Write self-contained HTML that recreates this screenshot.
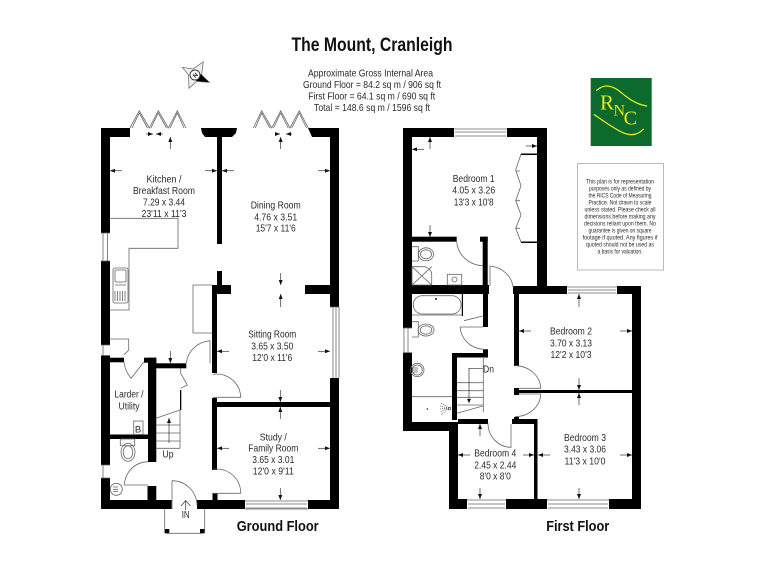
<!DOCTYPE html>
<html><head><meta charset="utf-8"><title>The Mount, Cranleigh</title>
<style>
html,body{margin:0;padding:0;background:#fff}
svg{display:block;filter:blur(.35px)}
text{font-family:"Liberation Sans",sans-serif;fill:#2a2a2a;text-anchor:middle}
.r{font-size:10.5px}
.t{font-size:6px}
.h{font-weight:bold;fill:#111}
.g{fill:none;stroke:#666;stroke-width:.8}
.k{fill:none;stroke:#333;stroke-width:.7}
.a{stroke:#333;stroke-width:.7;marker-end:url(#m)}
.y{fill:none;stroke:#e8e820;stroke-width:1.3;stroke-linecap:round}
.l{font-family:"Liberation Serif",serif;fill:#e8e820}
</style></head><body>
<svg width="768" height="576" viewBox="0 0 768 576" xmlns="http://www.w3.org/2000/svg">
<defs><marker id="m" markerUnits="userSpaceOnUse" markerWidth="5" markerHeight="4" refX="5" refY="2" orient="auto"><path d="M0 0L5 2L0 4z" fill="#111"/></marker></defs>
<rect width="768" height="576" fill="#fff"/>

<text x="372" y="51" class="h" font-size="19.5" textLength="161" lengthAdjust="spacingAndGlyphs">The Mount, Cranleigh</text>
<text x="370.5" y="76.500" class="r" textLength="125" lengthAdjust="spacingAndGlyphs">Approximate Gross Internal Area</text>
<text x="372" y="88" class="r" textLength="138" lengthAdjust="spacingAndGlyphs">Ground Floor = 84.2 sq m / 906 sq ft</text>
<text x="371.700" y="99.500" class="r" textLength="127" lengthAdjust="spacingAndGlyphs">First Floor = 64.1 sq m / 690 sq ft</text>
<text x="372" y="111" class="r" textLength="116" lengthAdjust="spacingAndGlyphs">Total = 148.6 sq m / 1596 sq ft</text>

<!-- compass -->
<path d="M182.300 67.300L193 69L203.300 61.700L201.500 76L209.300 82.300L196.500 81.500L189 88.300L188.500 75z" fill="#eee" stroke="#666" stroke-width=".7"/>
<path d="M201 74L209.300 82.300L196 81z" fill="#000"/>
<circle cx="195" cy="75" r="5" fill="#fff" stroke="#333" stroke-width=".9"/>
<text x="195" y="77.500" font-size="6" class="h" transform="rotate(-45 195 75)">N</text>

<!-- logo -->
<rect x="590.700" y="78" width="61" height="68" fill="#0c6a2c"/>
<path class="y" d="M596.700 90.300C600 87.500 603 86 606.700 86C611 86 615 88 618.300 90.300C623 94 627 97.500 631.700 100.300C636 103 641 105 646.700 106"/>
<path class="y" d="M594.300 114.700C598 117 601 119.500 605 122C609 124.700 614 128 618.300 130.300C623 133 627 134.700 631.700 134.700C636 134.700 640 132.500 643.300 129.300"/>
<text x="607" y="109.300" font-size="21" class="l">R</text>
<text x="619.300" y="115.300" font-size="16" class="l">N</text>
<text x="630.300" y="124.700" font-size="20" class="l">C</text>

<!-- notice -->
<rect x="577.500" y="163.500" width="86" height="106.500" fill="#fff" stroke="#bbb"/>
<g class="t">
<text x="620" y="183.700" textLength="68" lengthAdjust="spacingAndGlyphs">This plan is for representation</text>
<text x="620" y="190.700" textLength="62" lengthAdjust="spacingAndGlyphs">purposes only as defined by</text>
<text x="620" y="197.700" textLength="63" lengthAdjust="spacingAndGlyphs">the RICS Code of Measuring</text>
<text x="620" y="204.700" textLength="63" lengthAdjust="spacingAndGlyphs">Practice. Not drawn to scale</text>
<text x="620" y="211.700" textLength="71" lengthAdjust="spacingAndGlyphs">unless stated. Please check all</text>
<text x="620" y="218.700" textLength="71" lengthAdjust="spacingAndGlyphs">dimensions before making any</text>
<text x="620" y="225.700" textLength="72" lengthAdjust="spacingAndGlyphs">decisions reliant upon them. No</text>
<text x="620" y="232.700" textLength="63" lengthAdjust="spacingAndGlyphs">guarantee is given on square</text>
<text x="620" y="239.700" textLength="75" lengthAdjust="spacingAndGlyphs">footage if quoted. Any figures if</text>
<text x="620" y="246.700" textLength="68" lengthAdjust="spacingAndGlyphs">quoted should not be used as</text>
<text x="620" y="253.700" textLength="45" lengthAdjust="spacingAndGlyphs">a basis for valuation.</text>
</g>

<!-- GROUND FLOOR WALLS -->
<g fill="#000">
<rect x="101" y="128" width="29" height="9"/>
<rect x="101" y="128" width="9" height="105"/>
<rect x="101" y="261" width="9" height="84"/>
<rect x="101" y="355.500" width="9" height="109.500"/>
<rect x="101" y="478" width="9" height="31"/>
<path d="M201 128H237L236 133L232 137H205L202 133z"/>
<rect x="217" y="128" width="5" height="116"/>
<rect x="217" y="271" width="5" height="20"/>
<rect x="212" y="285" width="19" height="9"/>
<rect x="212" y="285" width="5" height="88"/>
<rect x="305" y="285" width="25" height="9"/>
<path d="M308 128H339V137H312z"/>
<rect x="330" y="128" width="9" height="179"/>
<rect x="330" y="378" width="9" height="131"/>
<rect x="110" y="357.700" width="14" height="4.600"/>
<rect x="144" y="357.700" width="12.300" height="5"/>
<rect x="148" y="357.700" width="8.300" height="104.300"/>
<rect x="156" y="363.300" width="30.300" height="5"/>
<rect x="110" y="434.500" width="38" height="4.500"/>
<rect x="147.500" y="486" width="8.800" height="14"/>
<rect x="212" y="398" width="5" height="72"/>
<rect x="212.500" y="493" width="5" height="7"/>
<rect x="212" y="402" width="118" height="5"/>
<rect x="101" y="500" width="70.500" height="9"/>
<rect x="197" y="500" width="48" height="9"/>
<rect x="308" y="500" width="31" height="9"/>
<rect x="180" y="390" width="1.300" height="20"/>
<rect x="164.700" y="529" width="4.600" height="4.300"/>
<rect x="200" y="529" width="4.700" height="4.300"/>
</g>

<!-- GROUND detail -->
<g class="g">
<path d="M101 233H110M101 261H110M103 233V261M107.500 233V261"/>
<path d="M101 345H110M101 355.500H110M103 345V355.500"/>
<path d="M101 465H110M101 478H110M103 465V478"/>
<path d="M330 307H339V378M333 307V378M336 307V378"/>
<path d="M245 501H308M246 504H307M246 508H307M245 509H308"/>
<path d="M130 128L139.300 110.700L149.300 128L158.300 110.700L168.300 128L177.300 110.700L186 128"/>
<path d="M132 128L139.300 113L147.500 128M151 128L158.300 113L166.500 128M170 128L177.300 113L184 128"/>
<path d="M253.300 128L261.700 110.700L271.700 128L280.700 110.700L290 128L299.300 110.700L308.300 128"/>
<path d="M255.300 128L261.700 113L270 128M273.500 128L280.700 113L288.200 128M291.800 128L299.300 113L306.500 128"/>
<path d="M110 218.300H178V248.300H129V310H110"/>
<path d="M193 333V285H212M193 333H212"/>
<rect x="113" y="268" width="15" height="35" rx="2"/>
<rect x="115" y="270" width="11" height="12" rx="1"/>
<path d="M115 285H126M115 291V301M117.500 291V301M120 291V301M122.500 291V301M125 291V301"/>
<path d="M110 339H128.700V350L124 355"/>
<path d="M124 362C125 370 128 375 131.300 378.300L143.700 362"/>
<rect x="133.700" y="421" width="9.300" height="13.500"/>
<rect x="120.300" y="439" width="14.400" height="6.700"/>
<ellipse cx="128" cy="452.300" rx="7" ry="9"/>
<ellipse cx="128" cy="452.300" rx="4.800" ry="6.500"/>
<circle cx="116.300" cy="489.300" r="6"/>
<path d="M113 487H118M113 489.300H118M113 491.500H118"/>
<path d="M210 340.700V363.300M186.300 363C188 351 197 342 210 340.700"/>
<path d="M213 397.300H240.700A24 24 0 0 0 213 374.300"/>
<path d="M213 493.300H240.700A24 24 0 0 0 213 469.300"/>
<path d="M148 485H124C126 470 136 462 148 461.700"/>
<path d="M172 480.700V509M172 480.700A25 25 0 0 1 197 505"/>
<path d="M180.700 368V373.300L187.300 385L180.700 388.300"/>
<path d="M156.500 418L180 410V448.300M156.500 425H180M156.500 433H180M156.500 441H180M156.500 448.300H180"/>
<path d="M164.700 509V533M204.700 509V533M166 533.300H203"/>
</g>
<line class="a" x1="169" y1="443" x2="169" y2="418"/>
<path d="M181 506L185.700 500.500L190.400 506M185.700 500.500V510" class="k"/>

<!-- FIRST FLOOR WALLS -->
<g fill="#000">
<rect x="403" y="128" width="51" height="9"/>
<rect x="507" y="128" width="40" height="9"/>
<rect x="403" y="128" width="9" height="200"/>
<rect x="403" y="352.700" width="9" height="78.300"/>
<rect x="403" y="422" width="55" height="9"/>
<rect x="537" y="128" width="10" height="166"/>
<rect x="513" y="286" width="54" height="8"/>
<rect x="617" y="286" width="24" height="8"/>
<rect x="632" y="286" width="9" height="223"/>
<rect x="449" y="422" width="9" height="87"/>
<rect x="449" y="499" width="18" height="10"/>
<rect x="506" y="499" width="41" height="10"/>
<rect x="609" y="499" width="32" height="10"/>
<rect x="458" y="419" width="30" height="5"/>
<rect x="512" y="419" width="25" height="5"/>
<rect x="534" y="419" width="3.500" height="80"/>
<rect x="514" y="417" width="5" height="7"/>
<rect x="519" y="390" width="113" height="3"/>
<rect x="514" y="388" width="5" height="7"/>
<rect x="514" y="286" width="5" height="80"/>
<rect x="452" y="353" width="5" height="67"/>
<rect x="452" y="353" width="36" height="4.500"/>
<rect x="483" y="349.300" width="5" height="8"/>
<rect x="483" y="294" width="5" height="33"/>
<rect x="412" y="236.700" width="44.700" height="5"/>
<rect x="480" y="236.700" width="7.700" height="5"/>
<rect x="482.700" y="236.700" width="5" height="50"/>
<rect x="412" y="285" width="77" height="9"/>
<rect x="521" y="153.500" width="16" height="1.500"/>
<rect x="521" y="241.500" width="16" height="1.500"/>
<rect x="461.800" y="294" width="1.200" height="22"/>
</g>
<g class="g">
<path d="M454 129H507M455 132H506M455 136H506"/>
<path d="M567 287H617M568 290H616M568 293H616"/>
<path d="M467 500H506M468 504H505M468 508H505"/>
<path d="M547 500H609M548 504H608M548 508H608"/>
<path d="M403 328H412M403 352.700H412M404 328V352.700M408 328V352.700"/>
<path d="M521 154L515.700 170L521 185.700L515.700 200.700L521 215L515.700 228.300L521 242"/>
<path d="M516 171H520M516 200.700H520M516 228.300H520"/>
<path d="M412 246.700H418.300V261H412"/>
<ellipse cx="426" cy="254.300" rx="7.500" ry="6.500"/>
<ellipse cx="426" cy="254.300" rx="5.500" ry="4.500"/>
<path d="M412 266.700H425C429 268 431.700 271 431.700 274.300V285H412zM412 285L431.700 266.700M412 266.700L431.700 285"/>
<rect x="447.300" y="274.300" width="14.400" height="10.700"/>
<circle cx="454.500" cy="279.500" r="2.500"/>
<path d="M456.700 241.700C457.500 254 468 265 482.700 265.700"/>
<path d="M490 286V266C502 267 512 276 513.300 288"/>
<rect x="413.300" y="295.700" width="47.700" height="18.300" rx="9"/>
<path d="M412 315H462"/>
<path d="M464 320.700L482.700 316"/>
<path d="M460 327H483M460 327C461 339 470 348 483 349.300"/>
<path d="M412 321.700H418.300V337H412"/>
<ellipse cx="426" cy="330" rx="8" ry="6"/>
<ellipse cx="426" cy="330" rx="5.800" ry="4.200"/>
<circle cx="417.300" cy="370" r="6.700"/>
<circle cx="417.300" cy="370" r="5"/>
<path d="M412 368H418M412 370H418M412 372H418"/>
<path d="M412 396.700H452"/>
<path d="M449 408L441 403M449 408L440 406M449 408L440 409M449 408L440 412M449 408L441 415" stroke-dasharray="1 1"/>
<path d="M457 382.700H483.300M483.300 358V412M457 390.700H483M457 397.300H483M457 405H483M457 413.300L482.700 406"/>
<path d="M519 388.300H540.700A26 23 0 0 0 515 365.700"/>
<path d="M519 394H540.700A26 23 0 0 1 515 416.700"/>
<path d="M488 423.300A23.300 24 0 0 0 511 447.300V424"/>
</g>
<circle cx="427.300" cy="409" r=".8" fill="#222"/>
<circle cx="436" cy="299" r="1" fill="#222"/>
<circle cx="449.500" cy="408.500" r="1.300" fill="none" stroke="#333" stroke-width=".6"/>
<path d="M482.700 368.300H469V403" class="k"/>
<path d="M467 399L469 403L471 399z" fill="#111"/>

<!-- DIM ARROWS -->
<g>
<line class="a" x1="122" y1="170.700" x2="110" y2="170.700"/>
<line class="a" x1="205" y1="170.700" x2="217" y2="170.700"/>
<line class="a" x1="234" y1="170.700" x2="222" y2="170.700"/>
<line class="a" x1="318" y1="170.700" x2="330" y2="170.700"/>
<line class="a" x1="146" y1="134" x2="153" y2="134"/>
<line class="a" x1="163" y1="134" x2="156" y2="134"/>
<line class="a" x1="170.300" y1="149" x2="170.300" y2="137"/>
<line class="a" x1="280.700" y1="149" x2="280.700" y2="137"/>
<line class="a" x1="275" y1="134" x2="280" y2="134"/>
<line class="a" x1="292" y1="134" x2="286" y2="134"/>
<line class="a" x1="280.700" y1="273" x2="280.700" y2="285"/>
<line class="a" x1="280.700" y1="307" x2="280.700" y2="294"/>
<line class="a" x1="229" y1="351.300" x2="217" y2="351.300"/>
<line class="a" x1="318" y1="351.300" x2="330" y2="351.300"/>
<line class="a" x1="280.300" y1="390" x2="280.300" y2="402"/>
<line class="a" x1="280.300" y1="419" x2="280.300" y2="407"/>
<line class="a" x1="229" y1="448.300" x2="217" y2="448.300"/>
<line class="a" x1="318" y1="448.300" x2="330" y2="448.300"/>
<line class="a" x1="280.300" y1="488" x2="280.300" y2="500"/>
<line class="a" x1="170.300" y1="351" x2="170.300" y2="363"/>
<line class="a" x1="430" y1="149" x2="430" y2="137"/>
<line class="a" x1="424" y1="149.300" x2="412" y2="149.300"/>
<line class="a" x1="526" y1="146" x2="537" y2="146"/>
<line class="a" x1="430" y1="225" x2="430" y2="237"/>
<line class="a" x1="579" y1="307" x2="579" y2="294"/>
<line class="a" x1="531" y1="331" x2="519" y2="331"/>
<line class="a" x1="620" y1="331" x2="632" y2="331"/>
<line class="a" x1="579" y1="378" x2="579" y2="390"/>
<line class="a" x1="579" y1="405" x2="579" y2="393"/>
<line class="a" x1="550" y1="455" x2="538" y2="455"/>
<line class="a" x1="620" y1="455" x2="632" y2="455"/>
<line class="a" x1="579" y1="488" x2="579" y2="499"/>
<line class="a" x1="470" y1="455" x2="458" y2="455"/>
<line class="a" x1="523" y1="455" x2="534" y2="455"/>
<line class="a" x1="480" y1="436" x2="480" y2="424"/>
<line class="a" x1="480" y1="488" x2="480" y2="499"/>
</g>

<!-- LABELS -->
<g class="r" lengthAdjust="spacingAndGlyphs">
<text x="164" y="182.500" textLength="35" lengthAdjust="spacingAndGlyphs">Kitchen /</text>
<text x="164" y="194" textLength="62" lengthAdjust="spacingAndGlyphs">Breakfast Room</text>
<text x="164" y="205.500" textLength="42" lengthAdjust="spacingAndGlyphs">7.29 x 3.44</text>
<text x="164" y="217" textLength="45" lengthAdjust="spacingAndGlyphs">23'11 x 11'3</text>
<text x="275.700" y="208.700" textLength="50" lengthAdjust="spacingAndGlyphs">Dining Room</text>
<text x="275.700" y="220.500" textLength="43" lengthAdjust="spacingAndGlyphs">4.76 x 3.51</text>
<text x="275.700" y="231.500" textLength="40" lengthAdjust="spacingAndGlyphs">15'7 x 11'6</text>
<text x="272.300" y="337.700" textLength="48" lengthAdjust="spacingAndGlyphs">Sitting Room</text>
<text x="272.300" y="349.500" textLength="42" lengthAdjust="spacingAndGlyphs">3.65 x 3.50</text>
<text x="272.300" y="361" textLength="40" lengthAdjust="spacingAndGlyphs">12'0 x 11'6</text>
<text x="129" y="397.700" textLength="29" lengthAdjust="spacingAndGlyphs">Larder /</text>
<text x="129" y="409.500" textLength="21" lengthAdjust="spacingAndGlyphs">Utility</text>
<text x="273.300" y="440.500" textLength="27" lengthAdjust="spacingAndGlyphs">Study /</text>
<text x="273.300" y="451.500" textLength="50" lengthAdjust="spacingAndGlyphs">Family Room</text>
<text x="273.300" y="463" textLength="42" lengthAdjust="spacingAndGlyphs">3.65 x 3.01</text>
<text x="273.300" y="474.500" textLength="41" lengthAdjust="spacingAndGlyphs">12'0 x 9'11</text>
<text x="168" y="457.500" textLength="11" lengthAdjust="spacingAndGlyphs">Up</text>
<text x="185.700" y="518" textLength="8" lengthAdjust="spacingAndGlyphs">IN</text>
<text x="138" y="432.500" font-size="9.500">B</text>
<text x="473.700" y="182" textLength="42" lengthAdjust="spacingAndGlyphs">Bedroom 1</text>
<text x="473.700" y="193.700" textLength="43" lengthAdjust="spacingAndGlyphs">4.05 x 3.26</text>
<text x="473.700" y="205.500" textLength="40" lengthAdjust="spacingAndGlyphs">13'3 x 10'8</text>
<text x="571" y="334.500" textLength="42" lengthAdjust="spacingAndGlyphs">Bedroom 2</text>
<text x="571" y="346.500" textLength="42" lengthAdjust="spacingAndGlyphs">3.70 x 3.13</text>
<text x="571" y="358" textLength="41" lengthAdjust="spacingAndGlyphs">12'2 x 10'3</text>
<text x="585" y="441" textLength="42" lengthAdjust="spacingAndGlyphs">Bedroom 3</text>
<text x="585" y="452.700" textLength="42" lengthAdjust="spacingAndGlyphs">3.43 x 3.06</text>
<text x="585" y="464.500" textLength="41" lengthAdjust="spacingAndGlyphs">11'3 x 10'0</text>
<text x="495.300" y="456.700" textLength="42" lengthAdjust="spacingAndGlyphs">Bedroom 4</text>
<text x="495.300" y="468.700" textLength="42" lengthAdjust="spacingAndGlyphs">2.45 x 2.44</text>
<text x="495.300" y="479.500" textLength="31" lengthAdjust="spacingAndGlyphs">8'0 x 8'0</text>
<text x="488.500" y="372.700" textLength="11" lengthAdjust="spacingAndGlyphs">Dn</text>
</g>
<text x="277.700" y="531" class="h" font-size="15" textLength="82" lengthAdjust="spacingAndGlyphs">Ground Floor</text>
<text x="577.700" y="531" class="h" font-size="15" textLength="63" lengthAdjust="spacingAndGlyphs">First Floor</text>
</svg>
</body></html>
